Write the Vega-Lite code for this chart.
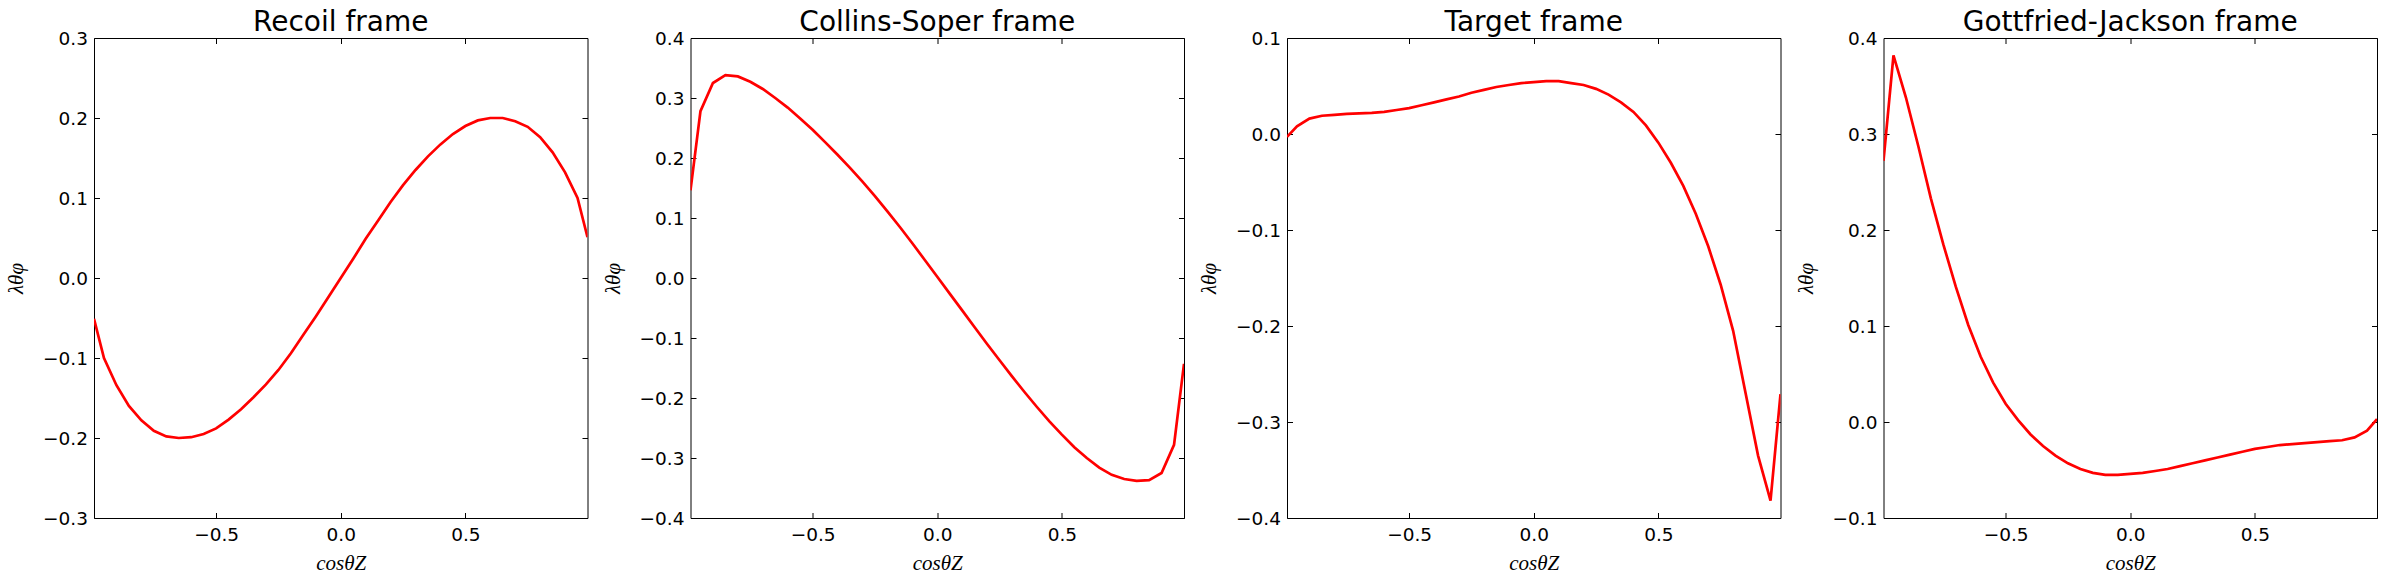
{
  "$schema": "https://vega.github.io/schema/vega-lite/v6.json",
  "padding": {"left": 5, "top": 8, "right": 5, "bottom": 5},
  "background": "white",
  "datasets": {
    "recoil": [
      {"x": -0.99, "y": -0.051}, {"x": -0.95, "y": -0.100}, {"x": -0.90, "y": -0.134}, {"x": -0.85, "y": -0.160},
      {"x": -0.80, "y": -0.178}, {"x": -0.75, "y": -0.191}, {"x": -0.70, "y": -0.198}, {"x": -0.65, "y": -0.200},
      {"x": -0.60, "y": -0.199}, {"x": -0.55, "y": -0.195}, {"x": -0.50, "y": -0.188}, {"x": -0.45, "y": -0.177},
      {"x": -0.40, "y": -0.164}, {"x": -0.35, "y": -0.149}, {"x": -0.30, "y": -0.133}, {"x": -0.25, "y": -0.115},
      {"x": -0.20, "y": -0.094}, {"x": -0.15, "y": -0.071}, {"x": -0.10, "y": -0.048}, {"x": -0.05, "y": -0.024},
      {"x": 0.00, "y": 0.000}, {"x": 0.05, "y": 0.024}, {"x": 0.10, "y": 0.049}, {"x": 0.15, "y": 0.072},
      {"x": 0.20, "y": 0.095}, {"x": 0.25, "y": 0.116}, {"x": 0.30, "y": 0.135}, {"x": 0.35, "y": 0.152},
      {"x": 0.40, "y": 0.167}, {"x": 0.45, "y": 0.180}, {"x": 0.50, "y": 0.190}, {"x": 0.55, "y": 0.197},
      {"x": 0.60, "y": 0.200}, {"x": 0.65, "y": 0.200}, {"x": 0.70, "y": 0.196}, {"x": 0.75, "y": 0.189},
      {"x": 0.80, "y": 0.176}, {"x": 0.85, "y": 0.157}, {"x": 0.90, "y": 0.132}, {"x": 0.95, "y": 0.100},
      {"x": 0.99, "y": 0.051}
    ],
    "cs": [
      {"x": -0.99, "y": 0.146}, {"x": -0.95, "y": 0.278}, {"x": -0.90, "y": 0.325}, {"x": -0.85, "y": 0.338},
      {"x": -0.80, "y": 0.336}, {"x": -0.75, "y": 0.327}, {"x": -0.70, "y": 0.315}, {"x": -0.65, "y": 0.300},
      {"x": -0.60, "y": 0.284}, {"x": -0.55, "y": 0.266}, {"x": -0.50, "y": 0.247}, {"x": -0.45, "y": 0.2265},
      {"x": -0.40, "y": 0.2055}, {"x": -0.35, "y": 0.1835}, {"x": -0.30, "y": 0.1605}, {"x": -0.25, "y": 0.1365},
      {"x": -0.20, "y": 0.111}, {"x": -0.15, "y": 0.085}, {"x": -0.10, "y": 0.058}, {"x": -0.05, "y": 0.030},
      {"x": 0.00, "y": 0.002}, {"x": 0.05, "y": -0.026}, {"x": 0.10, "y": -0.054}, {"x": 0.15, "y": -0.082},
      {"x": 0.20, "y": -0.110}, {"x": 0.25, "y": -0.137}, {"x": 0.30, "y": -0.164}, {"x": 0.35, "y": -0.190},
      {"x": 0.40, "y": -0.215}, {"x": 0.45, "y": -0.239}, {"x": 0.50, "y": -0.261}, {"x": 0.55, "y": -0.282},
      {"x": 0.60, "y": -0.300}, {"x": 0.65, "y": -0.316}, {"x": 0.70, "y": -0.328}, {"x": 0.75, "y": -0.335},
      {"x": 0.80, "y": -0.338}, {"x": 0.85, "y": -0.337}, {"x": 0.90, "y": -0.325}, {"x": 0.95, "y": -0.278},
      {"x": 0.99, "y": -0.143}
    ],
    "target": [
      {"x": -0.99, "y": -0.003}, {"x": -0.95, "y": 0.008}, {"x": -0.90, "y": 0.016}, {"x": -0.85, "y": 0.019},
      {"x": -0.80, "y": 0.020}, {"x": -0.75, "y": 0.021}, {"x": -0.70, "y": 0.0215}, {"x": -0.65, "y": 0.022},
      {"x": -0.60, "y": 0.023}, {"x": -0.55, "y": 0.025}, {"x": -0.50, "y": 0.027}, {"x": -0.45, "y": 0.030},
      {"x": -0.40, "y": 0.033}, {"x": -0.35, "y": 0.036}, {"x": -0.30, "y": 0.039}, {"x": -0.25, "y": 0.043},
      {"x": -0.20, "y": 0.046}, {"x": -0.15, "y": 0.049}, {"x": -0.10, "y": 0.051}, {"x": -0.05, "y": 0.053},
      {"x": 0.00, "y": 0.054}, {"x": 0.05, "y": 0.055}, {"x": 0.10, "y": 0.055}, {"x": 0.15, "y": 0.053},
      {"x": 0.20, "y": 0.051}, {"x": 0.25, "y": 0.047}, {"x": 0.30, "y": 0.041}, {"x": 0.35, "y": 0.033},
      {"x": 0.40, "y": 0.023}, {"x": 0.45, "y": 0.009}, {"x": 0.50, "y": -0.009}, {"x": 0.55, "y": -0.030},
      {"x": 0.60, "y": -0.054}, {"x": 0.65, "y": -0.083}, {"x": 0.70, "y": -0.117}, {"x": 0.75, "y": -0.157},
      {"x": 0.80, "y": -0.205}, {"x": 0.85, "y": -0.270}, {"x": 0.90, "y": -0.335}, {"x": 0.95, "y": -0.382},
      {"x": 0.99, "y": -0.271}
    ],
    "gj": [
      {"x": -0.99, "y": 0.272}, {"x": -0.95, "y": 0.382}, {"x": -0.90, "y": 0.338}, {"x": -0.85, "y": 0.287},
      {"x": -0.80, "y": 0.233}, {"x": -0.75, "y": 0.185}, {"x": -0.70, "y": 0.141}, {"x": -0.65, "y": 0.101},
      {"x": -0.60, "y": 0.068}, {"x": -0.55, "y": 0.041}, {"x": -0.50, "y": 0.019}, {"x": -0.45, "y": 0.002},
      {"x": -0.40, "y": -0.013}, {"x": -0.35, "y": -0.025}, {"x": -0.30, "y": -0.035}, {"x": -0.25, "y": -0.043},
      {"x": -0.20, "y": -0.049}, {"x": -0.15, "y": -0.053}, {"x": -0.10, "y": -0.055}, {"x": -0.05, "y": -0.055},
      {"x": 0.00, "y": -0.054}, {"x": 0.05, "y": -0.053}, {"x": 0.10, "y": -0.051}, {"x": 0.15, "y": -0.049},
      {"x": 0.20, "y": -0.046}, {"x": 0.25, "y": -0.043}, {"x": 0.30, "y": -0.040}, {"x": 0.35, "y": -0.037},
      {"x": 0.40, "y": -0.034}, {"x": 0.45, "y": -0.031}, {"x": 0.50, "y": -0.028}, {"x": 0.55, "y": -0.026},
      {"x": 0.60, "y": -0.024}, {"x": 0.65, "y": -0.023}, {"x": 0.70, "y": -0.022}, {"x": 0.75, "y": -0.021},
      {"x": 0.80, "y": -0.020}, {"x": 0.85, "y": -0.019}, {"x": 0.90, "y": -0.016}, {"x": 0.95, "y": -0.009},
      {"x": 0.99, "y": 0.003}
    ]
  },
  "spacing": 102.5,
  "bounds": "flush",
  "hconcat": [
    {
      "data": {"name": "recoil"},
      "title": {"text": "Recoil frame"},
      "width": 493.5, "height": 480,
      "layer": [
        {
          "mark": {"type": "line", "color": "#ff0000", "strokeWidth": 2.7, "clip": true},
          "encoding": {
            "x": {"field": "x", "type": "quantitative", "scale": {"domain": [-0.99, 0.99], "nice": false, "zero": false},
                  "axis": {"orient": "bottom", "values": [-0.5, 0, 0.5], "title": "cosθZ"}},
            "y": {"field": "y", "type": "quantitative", "scale": {"domain": [-0.3, 0.3], "nice": false, "zero": false},
                  "axis": {"orient": "left", "values": [-0.3, -0.2, -0.1, 0, 0.1, 0.2, 0.3], "title": "λθφ"}}
          }
        },
        {
          "mark": {"type": "line", "opacity": 0},
          "encoding": {
            "x": {"field": "x", "type": "quantitative", "axis": {"orient": "top", "values": [-0.5, 0, 0.5], "labels": false, "title": null}},
            "y": {"field": "y", "type": "quantitative", "axis": {"orient": "right", "values": [-0.3, -0.2, -0.1, 0, 0.1, 0.2, 0.3], "labels": false, "title": null}}
          }
        }
      ],
      "resolve": {"axis": {"x": "independent", "y": "independent"}}
    },
    {
      "data": {"name": "cs"},
      "title": {"text": "Collins-Soper frame"},
      "width": 493.5, "height": 480,
      "layer": [
        {
          "mark": {"type": "line", "color": "#ff0000", "strokeWidth": 2.7, "clip": true},
          "encoding": {
            "x": {"field": "x", "type": "quantitative", "scale": {"domain": [-0.99, 0.99], "nice": false, "zero": false},
                  "axis": {"orient": "bottom", "values": [-0.5, 0, 0.5], "title": "cosθZ"}},
            "y": {"field": "y", "type": "quantitative", "scale": {"domain": [-0.4, 0.4], "nice": false, "zero": false},
                  "axis": {"orient": "left", "values": [-0.4, -0.3, -0.2, -0.1, 0, 0.1, 0.2, 0.3, 0.4], "title": "λθφ"}}
          }
        },
        {
          "mark": {"type": "line", "opacity": 0},
          "encoding": {
            "x": {"field": "x", "type": "quantitative", "axis": {"orient": "top", "values": [-0.5, 0, 0.5], "labels": false, "title": null}},
            "y": {"field": "y", "type": "quantitative", "axis": {"orient": "right", "values": [-0.4, -0.3, -0.2, -0.1, 0, 0.1, 0.2, 0.3, 0.4], "labels": false, "title": null}}
          }
        }
      ],
      "resolve": {"axis": {"x": "independent", "y": "independent"}}
    },
    {
      "data": {"name": "target"},
      "title": {"text": "Target frame"},
      "width": 493.5, "height": 480,
      "layer": [
        {
          "mark": {"type": "line", "color": "#ff0000", "strokeWidth": 2.7, "clip": true},
          "encoding": {
            "x": {"field": "x", "type": "quantitative", "scale": {"domain": [-0.99, 0.99], "nice": false, "zero": false},
                  "axis": {"orient": "bottom", "values": [-0.5, 0, 0.5], "title": "cosθZ"}},
            "y": {"field": "y", "type": "quantitative", "scale": {"domain": [-0.4, 0.1], "nice": false, "zero": false},
                  "axis": {"orient": "left", "values": [-0.4, -0.3, -0.2, -0.1, 0, 0.1], "title": "λθφ"}}
          }
        },
        {
          "mark": {"type": "line", "opacity": 0},
          "encoding": {
            "x": {"field": "x", "type": "quantitative", "axis": {"orient": "top", "values": [-0.5, 0, 0.5], "labels": false, "title": null}},
            "y": {"field": "y", "type": "quantitative", "axis": {"orient": "right", "values": [-0.4, -0.3, -0.2, -0.1, 0, 0.1], "labels": false, "title": null}}
          }
        }
      ],
      "resolve": {"axis": {"x": "independent", "y": "independent"}}
    },
    {
      "data": {"name": "gj"},
      "title": {"text": "Gottfried-Jackson frame"},
      "width": 493.5, "height": 480,
      "layer": [
        {
          "mark": {"type": "line", "color": "#ff0000", "strokeWidth": 2.7, "clip": true},
          "encoding": {
            "x": {"field": "x", "type": "quantitative", "scale": {"domain": [-0.99, 0.99], "nice": false, "zero": false},
                  "axis": {"orient": "bottom", "values": [-0.5, 0, 0.5], "title": "cosθZ"}},
            "y": {"field": "y", "type": "quantitative", "scale": {"domain": [-0.1, 0.4], "nice": false, "zero": false},
                  "axis": {"orient": "left", "values": [-0.1, 0, 0.1, 0.2, 0.3, 0.4], "title": "λθφ"}}
          }
        },
        {
          "mark": {"type": "line", "opacity": 0},
          "encoding": {
            "x": {"field": "x", "type": "quantitative", "axis": {"orient": "top", "values": [-0.5, 0, 0.5], "labels": false, "title": null}},
            "y": {"field": "y", "type": "quantitative", "axis": {"orient": "right", "values": [-0.1, 0, 0.1, 0.2, 0.3, 0.4], "labels": false, "title": null}}
          }
        }
      ],
      "resolve": {"axis": {"x": "independent", "y": "independent"}}
    }
  ],
  "config": {
    "view": {"stroke": "#000000", "strokeWidth": 1},
    "title": {"font": "DejaVu Sans", "fontSize": 28, "fontWeight": "normal", "color": "#000000", "anchor": "middle", "frame": "group", "baseline": "alphabetic", "offset": -8},
    "axis": {
      "grid": false,
      "domain": false,
      "format": ".1f",
      "labelFont": "DejaVu Sans",
      "labelFontSize": 18.5,
      "labelColor": "#000000",
      "labelFlush": false,
      "labelOverlap": false,
      "tickColor": "#000000",
      "tickSize": -5.5,
      "tickWidth": 1,
      "titleFont": "Liberation Serif",
      "titleFontStyle": "italic",
      "titleFontWeight": "normal",
      "titleFontSize": 21,
      "titleColor": "#000000"
    },
    "axisX": {"labelPadding": 12.5, "titlePadding": 9},
    "axisY": {"labelPadding": 12, "titlePadding": 15.6}
  }
}
